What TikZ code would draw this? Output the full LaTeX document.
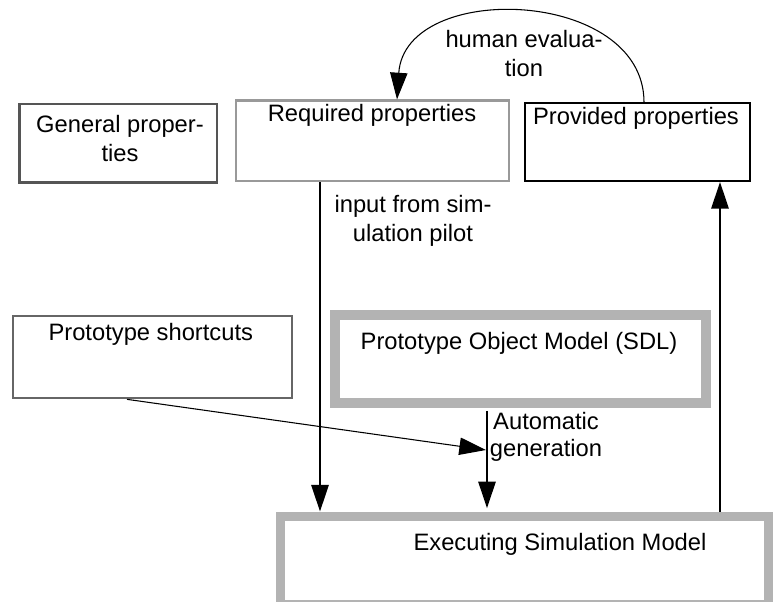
\documentclass[tikz,border=0pt]{standalone}
\usepackage{fontspec}
\setmainfont{Liberation Sans}
\usetikzlibrary{arrows.meta}
\definecolor{darkbox}{RGB}{85,85,85}
\definecolor{midbox}{RGB}{153,153,153}
\definecolor{sbox}{RGB}{102,102,102}
\definecolor{thickbox}{RGB}{179,179,179}
\begin{document}
\begin{tikzpicture}[x=0.75pt,y=-0.75pt,
  txt/.style={font=\fontsize{17.8pt}{21.75pt}\selectfont, inner sep=0pt, anchor=base, align=center},
  box/.style={draw, rectangle, inner sep=0pt},
  arr/.style={-{Triangle[length=20pt,width=13pt]}, line width=1.5pt},
  thinarr/.style={-{Triangle[length=20pt,width=13pt]}, line width=0.8pt}]
\useasboundingbox (0,0) rectangle (774,602);
\fill[white] (0,0) rectangle (774,602);

% boxes
\node[box, draw=darkbox, line width=2pt, minimum width=148pt, minimum height=59pt] (gen) at (118.35,143.35) {};
\node[box, draw=midbox, line width=1.7pt, minimum width=204.8pt, minimum height=60.5pt] (req) at (372.25,140.85) {};
\node[box, draw=black, line width=1.5pt, minimum width=168.5pt, minimum height=58.3pt] (prov) at (637.35,142.15) {};
\node[box, draw=sbox, line width=1.5pt, minimum width=208.8pt, minimum height=61.4pt] (sc) at (152.5,357.4) {};
\node[box, draw=thickbox, line width=7.5pt, minimum width=277.9pt, minimum height=66pt] (pom) at (520.25,358.5) {};
\node[box, draw=thickbox, line width=6.75pt, minimum width=366pt, minimum height=66pt] (exec) at (524,560) {};

% box texts (base anchor = baseline of the last line)
\node[txt] (gent) at (120,162) {General proper-\\ties};
\node[txt] (reqt) at (372,121.7) {Required properties};
\node[txt] (provt) at (636,125) {Provided properties};
\node[txt] (sct) at (150.8,340.7) {Prototype shortcuts};
\node[txt] (pomt) at (519,349) {Prototype Object Model (SDL)};
\node[txt] (exect) at (560,550) {Executing Simulation Model};

% connector labels
\node[txt] (hum) at (524,76.7) {human evalua-\\tion};
\node[txt] (inp) at (413,241.7) {input from sim-\\ulation pilot};
\node[txt, font=\fontsize{17.8pt}{20.5pt}\selectfont] (aut) at (546,456.7) {Automatic\\generation};

% helper coordinates
\coordinate (xa) at (320,0);
\coordinate (xb) at (487,0);
\coordinate (xc) at (720,0);
\coordinate (xd) at (127,0);
\coordinate (xe) at (644,0);
\coordinate (xf) at (397,0);
\coordinate (genpt) at (486,450);

% connectors
\draw[arr] (req.south -| xa) -- (exec.north -| xa);
\draw[arr] ([yshift=-2.5pt]pom.south -| xb) -- ([yshift=2.5pt]exec.north -| xb);
\draw[arr] (exec.north -| xc) -- (prov.south -| xc);
\draw[thinarr] (sc.south -| xd) -- (genpt);
\draw[thinarr] (prov.north -| xe) .. controls (644,-12) and (405,-20) .. (req.north -| xf);
\end{tikzpicture}
\end{document}
